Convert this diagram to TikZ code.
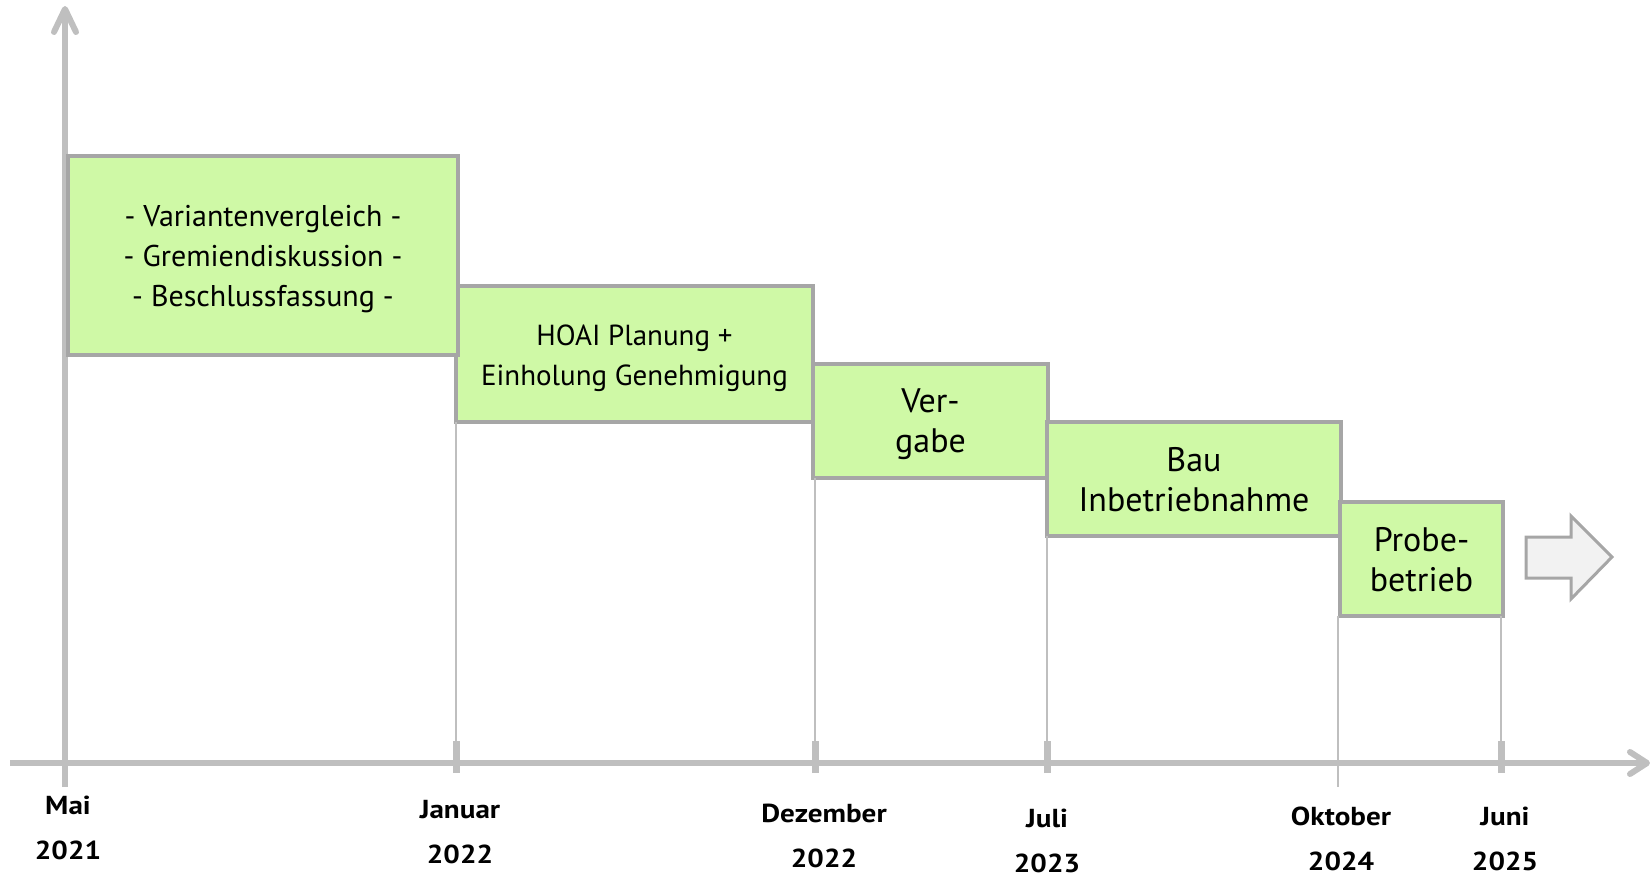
\documentclass[tikz,border=0pt]{standalone}
\usepackage{fontspec}
\setmainfont{PT Sans}
\newfontfamily\datefont[FakeStretch=1.12]{PT Sans}
\definecolor{axisgray}{RGB}{191,191,191}
\definecolor{bordergray}{RGB}{166,166,166}
\definecolor{boxgreen}{HTML}{CFF9A6}
\definecolor{arrowfill}{HTML}{F2F2F2}
\tikzset{
  phase/.style={draw=bordergray, line width=3.5pt, fill=boxgreen, anchor=north west, inner sep=0pt, outer sep=0pt},
  phasetxt/.style={align=center, inner sep=0pt},
  smalltxt/.style={font=\fontsize{30}{40}\selectfont},
  hoaitxt/.style={font=\fontsize{29}{40}\selectfont},
  bigtxt/.style={font=\fontsize{34}{40}\selectfont},
  datelbl/.style={font=\datefont\bfseries\fontsize{26}{45}\selectfont, align=center, anchor=center},
  axisline/.style={draw=axisgray, line width=6pt},
  tickline/.style={draw=axisgray, line width=7pt},
  guide/.style={draw=axisgray, line width=2pt},
  chev/.style={draw=axisgray, line width=6pt, line cap=round, line join=round},
}
\begin{document}
\begin{tikzpicture}[x=1pt,y=-1pt]
\useasboundingbox (0,0) rectangle (1650,878);
% axis coordinates
\coordinate (ax0) at (10,763);
\coordinate (ax1) at (1647,763);
\coordinate (ay0) at (65,787);
\coordinate (ay1) at (65,10);
\coordinate (tJ) at (456,763);
\coordinate (tD) at (815,763);
\coordinate (tL) at (1047,763);
\coordinate (tO) at (1338,787);
\coordinate (tU) at (1501,763);
% boxes (first layer)
\node[phase, minimum width=357pt, minimum height=136pt] (b2) at (456,286) {};
\node[phase, minimum width=235pt, minimum height=114pt] (b3) at (813,364) {};
\node[phase, minimum width=294pt, minimum height=114pt] (b4) at (1047,422) {};
\node[phase, minimum width=163pt, minimum height=114pt] (b5) at (1340,502) {};
% guide lines
\draw[guide] (tJ |- b2.south) -- (tJ);
\draw[guide] (tD |- b3.south) -- (tD);
\draw[guide] (tL |- b4.south) -- (tL);
\draw[guide] (tO |- b5.south) -- (tO);
\draw[guide] (tU |- b5.south) -- (tU);
% axes
\draw[axisline] (ax0) -- (ax1);
\draw[chev] (1630,752) -- (ax1) -- (1630,774);
\draw[axisline] (ay0) -- (ay1);
\draw[chev] (54,32) -- (65,9) -- (76,32);
% ticks
\draw[tickline] ([yshift=-10pt]tJ) -- ([yshift=22pt]tJ);
\draw[tickline] ([yshift=-10pt]tD) -- ([yshift=22pt]tD);
\draw[tickline] ([yshift=-10pt]tL) -- ([yshift=22pt]tL);
\draw[tickline] ([yshift=-10pt]tU) -- ([yshift=22pt]tU);
% first box, above the vertical axis
\node[phase, minimum width=390pt, minimum height=199pt] (b1) at (68,156) {};
% box texts
\node[phasetxt, smalltxt] (t1) at ([yshift=-4pt]b1.center)
  {- Variantenvergleich -\\- Gremiendiskussion -\\- Beschlussfassung -};
\node[phasetxt, hoaitxt] (t2) at ([yshift=-4pt]b2.center)
  {HOAI Planung +\\Einholung Genehmigung};
\node[phasetxt, bigtxt] (t3) at ([yshift=-3pt]b3.center) {Ver-\\gabe};
\node[phasetxt, bigtxt] (t4) at ([yshift=-1pt]b4.center) {Bau\\Inbetriebnahme};
\node[phasetxt, bigtxt] (t5) at ([yshift=-1pt]b5.center) {Probe-\\betrieb};
% big arrow
\draw[draw=bordergray, fill=arrowfill, line width=3pt, line join=miter]
  (1526,537) -- (1571,537) -- (1571,516) -- (1612,557) -- (1571,599) -- (1571,578) -- (1526,578) -- cycle;
% date labels
\node[datelbl] (d1) at (68,828) {Mai\\2021};
\node[datelbl] (d2) at (460,832) {Januar\\2022};
\node[datelbl] (d3) at (824,836) {Dezember\\2022};
\node[datelbl] (d4) at (1047,841) {Juli\\2023};
\node[datelbl] (d5) at (1341,839) {Oktober\\2024};
\node[datelbl] (d6) at (1505,839) {Juni\\2025};
\end{tikzpicture}
\end{document}
